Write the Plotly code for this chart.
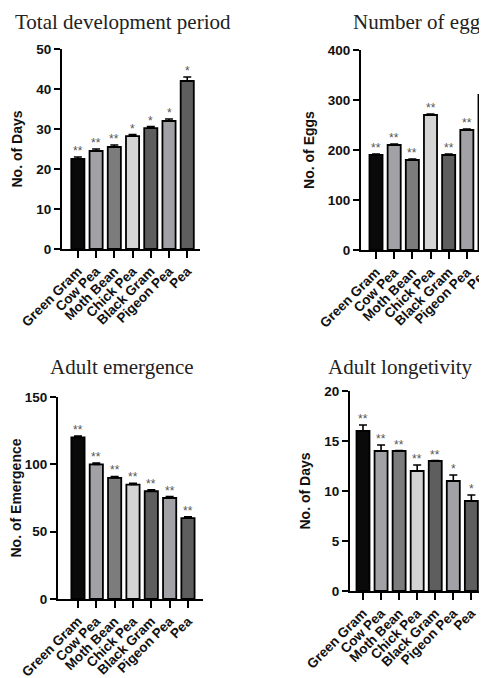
import plotly.graph_objects as go

categories = ["Green Gram", "Cow Pea", "Moth Bean", "Chick Pea", "Black Gram", "Pigeon Pea", "Pea"]
bar_colors = ["#0a0a0a", "#a2a2a6", "#7c7c7c", "#d4d4d4", "#5e5e5e", "#a2a2a6", "#5e5e5e"]

dev_days = [22.5, 24.5, 25.5, 28.2, 30.2, 32.0, 42.0]
dev_err = [0.5, 0.5, 0.5, 0.4, 0.4, 0.5, 1.0]
dev_sig = ["**", "**", "**", "*", "*", "*", "*"]

eggs = [190, 210, 180, 270, 190, 240, 310]
eggs_err = [2, 2, 2, 2, 2, 2, 2]
eggs_sig = ["**", "**", "**", "**", "**", "**", "**"]

emergence = [120, 100, 90, 85, 80, 75, 60]
emergence_err = [1, 1, 1, 1, 1, 1, 1]
emergence_sig = ["**", "**", "**", "**", "**", "**", "**"]

longevity = [16, 14, 14, 12, 13, 11, 9]
longevity_err = [0.6, 0.6, 0.05, 0.6, 0.05, 0.6, 0.6]
longevity_sig = ["**", "**", "**", "**", "**", "*", "*"]

# page body has an 8px margin, so the figure is drawn 8px in from the window's top-left
OFF = 8
W, H = 487 - OFF, 678 - OFF
SANS = "Liberation Sans, Arial"

panels = [
    dict(title="Total development period", ytitle="No. of Days", y=dev_days, err=dev_err, sig=dev_sig,
         ymax=50, dtick=10, px=(62, 200), py=(49, 249), xr=(-0.87, 6.7), tx=123, ty=22),
    dict(title="Number of eggs", ytitle="No. of Eggs", y=eggs, err=eggs_err, sig=eggs_sig,
         ymax=400, dtick=100, px=(361, 487), py=(50, 250), xr=(-0.826, 6.11), tx=420, ty=22),
    dict(title="Adult emergence", ytitle="No. of Emergence", y=emergence, err=emergence_err, sig=emergence_sig,
         ymax=150, dtick=50, px=(58, 203), py=(397, 599), xr=(-1.09, 6.82), tx=122, ty=367),
    dict(title="Adult longetivity", ytitle="No. of Days", y=longevity, err=longevity_err, sig=longevity_sig,
         ymax=20, dtick=5, px=(350, 484), py=(391, 591), xr=(-0.72, 6.7), tx=400, ty=367),
]

fig = go.Figure()
annotations = []
layout = {}
for i, p in enumerate(panels, start=1):
    xa = "x" if i == 1 else f"x{i}"
    ya = "y" if i == 1 else f"y{i}"
    fig.add_trace(go.Bar(
        x=categories, y=p["y"], xaxis=xa, yaxis=ya,
        marker=dict(color=bar_colors, line=dict(color="black", width=1.8)),
        error_y=dict(type="data", array=p["err"], arrayminus=[0] * 7, symmetric=False,
                     color="black", thickness=1.6, width=4),
        width=0.72, showlegend=False,
    ))
    xkey = "xaxis" if i == 1 else f"xaxis{i}"
    ykey = "yaxis" if i == 1 else f"yaxis{i}"
    x0, x1 = (p["px"][0] - OFF) / W, min(1.0, (p["px"][1] - OFF) / W)
    y0, y1 = 1 - (p["py"][1] - OFF) / H, 1 - (p["py"][0] - OFF) / H
    layout[xkey] = dict(
        domain=[x0, x1], anchor=ya, range=list(p["xr"]), automargin=False,
        showline=True, linecolor="black", linewidth=2.2, ticks="outside", ticklen=7, tickwidth=2,
        tickcolor="black", tickangle=-45, showgrid=False, zeroline=False,
        tickfont=dict(family=SANS, size=13.5, color="#111", weight="bold"),
    )
    layout[ykey] = dict(
        domain=[y0, y1], anchor=xa, range=[0, p["ymax"]], automargin=False,
        dtick=p["dtick"], showline=True, linecolor="black", linewidth=2.2, ticks="outside",
        ticklen=6, tickwidth=2, tickcolor="black", showgrid=False, zeroline=False,
        tickfont=dict(family=SANS, size=13.5, color="#111", weight="bold"),
        title=dict(text=p["ytitle"], standoff=10,
                   font=dict(family=SANS, size=14, color="#111", weight="bold")),
    )
    for c, v, e, s in zip(categories, p["y"], p["err"], p["sig"]):
        annotations.append(dict(
            x=c, y=v + e, xref=xa, yref=ya, text=s, showarrow=False, yanchor="bottom",
            yshift=-3, font=dict(family=SANS, size=12, color="#555555"),
        ))
    annotations.append(dict(
        x=(p["tx"] - OFF) / W, y=1 - (p["ty"] - OFF) / H, xref="paper", yref="paper", text=p["title"],
        showarrow=False, xanchor="center", yanchor="middle",
        font=dict(family="Liberation Serif, Times New Roman", size=21, color="#222"),
    ))

fig.update_layout(
    width=W, height=H, margin=dict(l=0, r=0, t=0, b=0, autoexpand=False),
    paper_bgcolor="white", plot_bgcolor="white", template="none",
    annotations=annotations, bargap=0.25,
    font=dict(family=SANS, color="#111"),
    **layout,
)
fig.write_html("out.html")
